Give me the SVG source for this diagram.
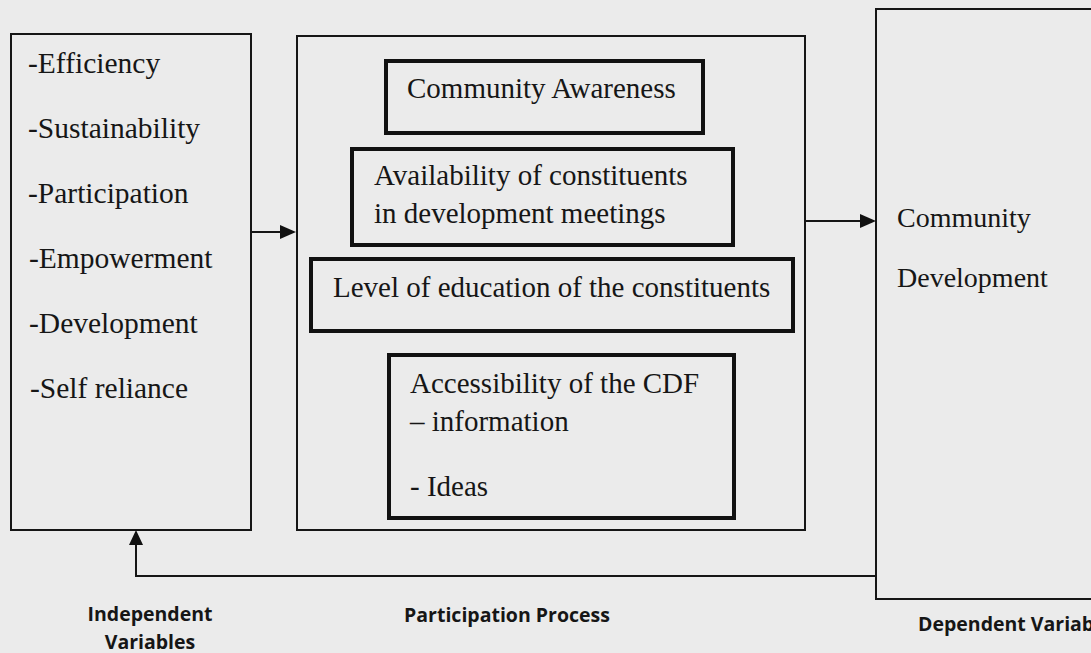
<svg xmlns="http://www.w3.org/2000/svg" width="1091" height="653" viewBox="0 0 1091 653">
<style>
.bg{fill:#ebebeb}
.outer{fill:none;stroke:#151515;stroke-width:2}
.inner{fill:none;stroke:#111;stroke-width:4}
.serif{font-family:"Liberation Serif","Times New Roman",serif;fill:#161616}
.lbl{font-family:"Open Sans","DejaVu Sans",sans-serif;font-weight:bold;font-size:19.5px;fill:#161616}
.line{fill:none;stroke:#151515;stroke-width:2}
.head{fill:#111}
</style>
<rect class="bg" x="0" y="0" width="1091" height="653"/>

<g id="independent">
  <rect class="outer" x="11" y="34" width="240" height="496"/>
  <g class="serif" font-size="29.5">
    <text x="28" y="73">-Efficiency</text>
    <text x="28" y="138">-Sustainability</text>
    <text x="28" y="203">-Participation</text>
    <text x="29" y="268">-Empowerment</text>
    <text x="29" y="333">-Development</text>
    <text x="30" y="398">-Self reliance</text>
  </g>
</g>

<g id="process">
  <rect class="outer" x="297" y="36" width="508" height="494"/>
</g>

<g id="awareness">
  <rect class="inner" x="386" y="61" width="317" height="72"/>
  <text class="serif" font-size="29" x="407" y="98">Community Awareness</text>
</g>

<g id="availability">
  <rect class="inner" x="352" y="149" width="381" height="96"/>
  <text class="serif" font-size="29" x="374" y="185">Availability of constituents</text>
  <text class="serif" font-size="29" x="374" y="223">in development meetings</text>
</g>

<g id="education">
  <rect class="inner" x="311" y="259" width="482" height="72"/>
  <text class="serif" font-size="29" x="333" y="297">Level of education of the constituents</text>
</g>

<g id="accessibility">
  <rect class="inner" x="389" y="355" width="345" height="163"/>
  <text class="serif" font-size="29" x="410" y="393">Accessibility of the CDF</text>
  <text class="serif" font-size="29" x="410" y="431">– information</text>
  <text class="serif" font-size="29" x="410" y="496">- Ideas</text>
</g>

<g id="dependent">
  <rect class="outer" x="876" y="9" width="300" height="590"/>
  <text class="serif" font-size="28" x="897" y="227">Community</text>
  <text class="serif" font-size="28" x="897" y="287">Development</text>
</g>

<g id="connectors">
  <line class="line" x1="251" y1="232" x2="283" y2="232"/>
  <polygon class="head" points="280,225 296,232 280,239"/>
  <line class="line" x1="805" y1="221" x2="863" y2="221"/>
  <polygon class="head" points="860,214 876,221 860,228"/>
  <polyline class="line" points="877,576 136,576 136,543"/>
  <polygon class="head" points="129,545 136,530 143,545"/>
</g>

<g id="labels">
  <text class="lbl" x="150" y="621" text-anchor="middle">Independent</text>
  <text class="lbl" x="150" y="649" text-anchor="middle">Variables</text>
  <text class="lbl" x="507" y="622" text-anchor="middle">Participation Process</text>
  <text class="lbl" x="918" y="631">Dependent Variables</text>
</g>
</svg>
